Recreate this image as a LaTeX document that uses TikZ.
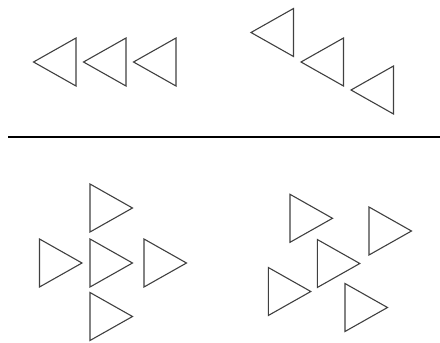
\documentclass[tikz,border=0pt]{standalone}
\begin{document}
\begin{tikzpicture}[x=1pt,y=-1pt,
  tri/.style={draw=black!75,line width=1.1pt,line join=miter},
  sep/.style={draw=black,line width=2.4pt},
  pics/ltri/.style={code={\draw[tri] (0,-24) -- (0,24) -- (-42.5,0) -- cycle;}},
  pics/rtri/.style={code={\draw[tri] (0,-24) -- (0,24) -- (42.5,0) -- cycle;}}]
\useasboundingbox (0,0) rectangle (440,343);
% top left
\pic at (76,62) {ltri};
\pic at (126,62) {ltri};
\pic at (176,62) {ltri};
% top right
\pic at (293.5,32.5) {ltri};
\pic at (343.5,62) {ltri};
\pic at (393.5,90) {ltri};
% separator
\coordinate (sl) at (8,137);
\coordinate (sr) at (440,137);
\draw[sep] (sl) -- (sr);
% bottom left
\pic at (90,208) {rtri};
\pic at (90,263) {rtri};
\pic at (39.5,263) {rtri};
\pic at (144,263) {rtri};
\pic at (90,316.5) {rtri};
% bottom right
\pic at (290,218.3) {rtri};
\pic at (369,231) {rtri};
\pic at (317.3,263.5) {rtri};
\pic at (268.3,291.5) {rtri};
\pic at (345,307.5) {rtri};
\end{tikzpicture}
\end{document}
